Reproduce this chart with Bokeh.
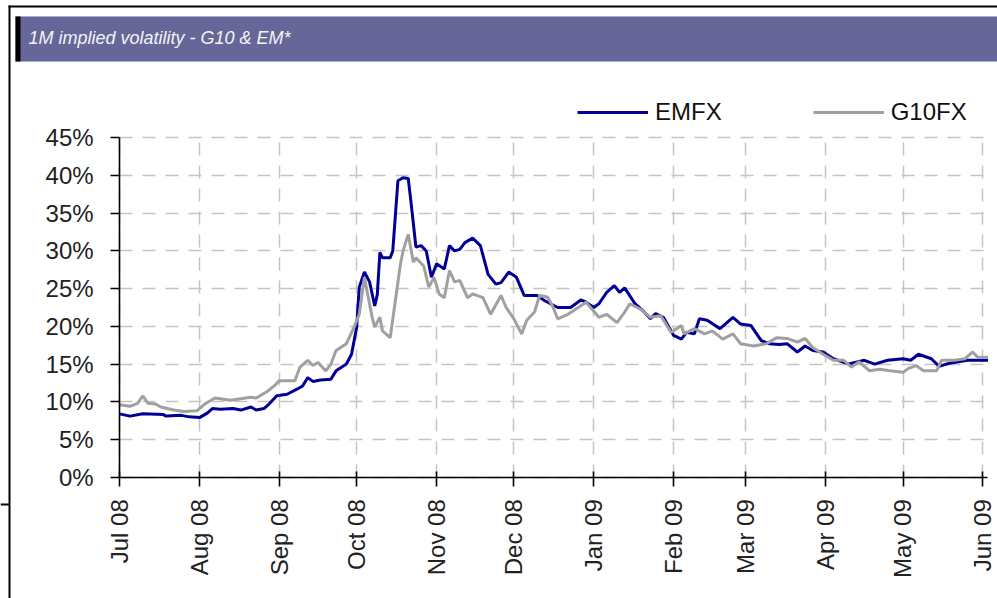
import math
import pandas as pd
from bokeh.plotting import figure
from bokeh.models import (ColumnDataSource, Range1d, FixedTicker, DatetimeTickFormatter, Grid,
                          PrintfTickFormatter, Legend, LegendItem, Label, BoxAnnotation)
from bokeh.embed import file_html
from bokeh.resources import INLINE

title_text = "1M implied volatility - G10 & EM*"
series_names = ["EMFX", "G10FX"]
month_ticks = ["2008-07-01", "2008-08-01", "2008-09-01", "2008-10-01", "2008-11-01", "2008-12-01",
               "2009-01-01", "2009-02-01", "2009-03-01", "2009-04-01", "2009-05-01", "2009-06-01"]
y_ticks = [0, 5, 10, 15, 20, 25, 30, 35, 40, 45]

emfx_dates = ["2008-07-01", "2008-07-05", "2008-07-10", "2008-07-18", "2008-07-19", "2008-07-25", "2008-07-28",
              "2008-08-01", "2008-08-04", "2008-08-06", "2008-08-09", "2008-08-14", "2008-08-17", "2008-08-21",
              "2008-08-23", "2008-08-26", "2008-08-28", "2008-08-31", "2008-09-04", "2008-09-08", "2008-09-10",
              "2008-09-12", "2008-09-14", "2008-09-17", "2008-09-21", "2008-09-23", "2008-09-27", "2008-09-29",
              "2008-10-01", "2008-10-02", "2008-10-04", "2008-10-06", "2008-10-08", "2008-10-09", "2008-10-10",
              "2008-10-11", "2008-10-14", "2008-10-15", "2008-10-17", "2008-10-19", "2008-10-21", "2008-10-22",
              "2008-10-24", "2008-10-26", "2008-10-28", "2008-10-30", "2008-11-01", "2008-11-04", "2008-11-06",
              "2008-11-08", "2008-11-10", "2008-11-12", "2008-11-15", "2008-11-18", "2008-11-21", "2008-11-24",
              "2008-11-26", "2008-11-29", "2008-12-02", "2008-12-05", "2008-12-10", "2008-12-13", "2008-12-18",
              "2008-12-23", "2008-12-27", "2008-12-29", "2009-01-01", "2009-01-03", "2009-01-06", "2009-01-09",
              "2009-01-11", "2009-01-13", "2009-01-17", "2009-01-20", "2009-01-23", "2009-01-25", "2009-01-28",
              "2009-02-01", "2009-02-04", "2009-02-06", "2009-02-09", "2009-02-11", "2009-02-14", "2009-02-19",
              "2009-02-24", "2009-02-27", "2009-03-03", "2009-03-07", "2009-03-10", "2009-03-14", "2009-03-17",
              "2009-03-21", "2009-03-24", "2009-03-27", "2009-03-31", "2009-04-04", "2009-04-10", "2009-04-16",
              "2009-04-20", "2009-04-25", "2009-05-01", "2009-05-04", "2009-05-07", "2009-05-12", "2009-05-15",
              "2009-05-19", "2009-05-26", "2009-06-03"]
emfx_vals = [8.4, 8.1, 8.4, 8.3, 8.1, 8.2, 8.0,
             7.9, 8.5, 9.1, 9.0, 9.1, 8.9, 9.3,
             8.9, 9.1, 9.7, 10.8, 11.0, 11.7, 12.1,
             13.2, 12.7, 12.9, 13.0, 14.1, 15.0, 16.3,
             19.9, 25.2, 27.2, 25.9, 22.7, 24.2, 29.8,
             29.1, 29.1, 30.0, 39.3, 39.7, 39.6, 36.7,
             30.5, 30.7, 30.0, 26.5, 28.3, 27.6, 30.7,
             30.0, 30.2, 31.1, 31.7, 30.7, 26.9, 25.6,
             25.8, 27.2, 26.5, 24.1, 24.1, 23.4, 22.5,
             22.5, 23.5, 23.2, 22.5, 23.0, 24.5, 25.4,
             24.5, 25.1, 23.0, 22.1, 21.0, 21.7, 21.2,
             18.8, 18.3, 19.2, 19.0, 21.0, 20.8, 19.7,
             21.2, 20.3, 20.1, 18.1, 17.7, 17.6, 17.7,
             16.6, 17.4, 16.8, 16.6, 15.7, 15.0, 15.5,
             15.0, 15.5, 15.7, 15.5, 16.3, 15.7, 14.7,
             15.1, 15.5, 15.5]

g10_dates = ["2008-07-01", "2008-07-05", "2008-07-08", "2008-07-10", "2008-07-12", "2008-07-15", "2008-07-17",
             "2008-07-22", "2008-07-26", "2008-07-31", "2008-08-03", "2008-08-07", "2008-08-09", "2008-08-13",
             "2008-08-17", "2008-08-21", "2008-08-23", "2008-08-27", "2008-08-30", "2008-09-01", "2008-09-07",
             "2008-09-09", "2008-09-12", "2008-09-14", "2008-09-16", "2008-09-19", "2008-09-21", "2008-09-23",
             "2008-09-27", "2008-09-30", "2008-10-02", "2008-10-04", "2008-10-05", "2008-10-07", "2008-10-08",
             "2008-10-10", "2008-10-11", "2008-10-14", "2008-10-16", "2008-10-18", "2008-10-19", "2008-10-21",
             "2008-10-23", "2008-10-24", "2008-10-27", "2008-10-29", "2008-10-31", "2008-11-02", "2008-11-04",
             "2008-11-06", "2008-11-08", "2008-11-10", "2008-11-13", "2008-11-15", "2008-11-19", "2008-11-22",
             "2008-11-26", "2008-11-28", "2008-12-01", "2008-12-04", "2008-12-06", "2008-12-09", "2008-12-11",
             "2008-12-14", "2008-12-16", "2008-12-18", "2008-12-22", "2008-12-26", "2008-12-29", "2009-01-03",
             "2009-01-06", "2009-01-10", "2009-01-13", "2009-01-15", "2009-01-19", "2009-01-23", "2009-01-27",
             "2009-01-31", "2009-02-04", "2009-02-05", "2009-02-09", "2009-02-13", "2009-02-16", "2009-02-20",
             "2009-02-24", "2009-02-27", "2009-03-04", "2009-03-09", "2009-03-13", "2009-03-17", "2009-03-21",
             "2009-03-24", "2009-03-27", "2009-03-31", "2009-04-04", "2009-04-08", "2009-04-11", "2009-04-14",
             "2009-04-18", "2009-04-22", "2009-04-26", "2009-05-01", "2009-05-03", "2009-05-06", "2009-05-09",
             "2009-05-14", "2009-05-16", "2009-05-21", "2009-05-25", "2009-05-28", "2009-05-30", "2009-06-03"]
g10_vals = [9.6, 9.4, 9.8, 10.8, 9.8, 9.7, 9.3,
            8.9, 8.7, 8.8, 9.7, 10.5, 10.4, 10.2,
            10.4, 10.6, 10.5, 11.3, 12.1, 12.8, 12.8,
            14.6, 15.5, 14.8, 15.2, 14.1, 15.0, 16.8,
            17.7, 19.9, 21.6, 26.5, 24.7, 21.2, 19.9,
            21.2, 19.4, 18.5, 23.4, 28.3, 30.0, 32.2,
            28.5, 29.1, 28.0, 25.2, 26.5, 24.3, 23.8,
            27.4, 25.9, 26.1, 23.8, 24.3, 23.8, 21.6,
            24.1, 22.5, 21.0, 19.0, 20.8, 21.9, 24.1,
            23.9, 22.7, 21.0, 21.6, 22.5, 23.2, 21.2,
            21.6, 20.5, 21.9, 23.0, 22.3, 21.2, 21.4,
            19.2, 20.1, 19.0, 19.7, 19.0, 19.4, 18.3,
            19.0, 17.7, 17.4, 17.7, 18.5, 18.4, 17.9,
            18.4, 17.2, 16.3, 15.5, 15.5, 14.6, 15.3,
            14.1, 14.3, 14.1, 13.9, 14.4, 14.8, 14.1,
            14.1, 15.5, 15.5, 15.7, 16.6, 15.9, 15.9]

# ---------------------------------------------------------------- layout (canvas px)
W, H = 997, 598
AX_L = 119.1        # x of 1 Jul 2008
AX_R = 986.7        # right end of x axis
PX_DAY = 2.577
AX_B = 476.7        # y of 0%
AX_T = 137.3        # y of 45%
PX_PCT = (AX_B - AX_T) / 45.0

x0 = pd.Timestamp("2008-07-01")
xr = Range1d(x0 - pd.Timedelta(days=AX_L / PX_DAY), x0 + pd.Timedelta(days=(W - AX_L) / PX_DAY))
yr = Range1d(-(H - AX_B) / PX_PCT, 45 + AX_T / PX_PCT)

def ms(ts):
    return float(pd.Timestamp(ts).value // 10**6)

x0_ms = ms(x0)
xend_ms = ms(x0 + pd.Timedelta(days=(AX_R - AX_L) / PX_DAY))

p = figure(width=W, height=H, x_axis_type="datetime", output_backend="svg", toolbar_location=None,
           x_range=xr, y_range=yr, min_border=0)
p.outline_line_color = None
p.background_fill_color = "white"
p.border_fill_color = "white"

tick_ms = [ms(t) for t in month_ticks]
xt = FixedTicker(ticks=tick_ms)
yt = FixedTicker(ticks=y_ticks)

fmt = "%b %y"
xa = p.xaxis[0]
ya = p.yaxis[0]
xa.ticker = xt
xa.formatter = DatetimeTickFormatter(days=fmt, months=fmt, years=fmt, hours=fmt, hourmin=fmt,
                                     minutes=fmt, minsec=fmt, seconds=fmt, milliseconds=fmt,
                                     microseconds=fmt)
xa.fixed_location = 0
xa.bounds = (x0_ms, xend_ms)
xa.major_label_orientation = math.pi / 2
xa.major_tick_in = 6
xa.major_tick_out = 9
xa.minor_tick_line_color = None
xa.major_label_standoff = 13

ya.ticker = yt
ya.formatter = PrintfTickFormatter(format="%d%%")
ya.fixed_location = x0_ms
ya.bounds = (0, 45)
ya.major_tick_in = 0
ya.major_tick_out = 9
ya.minor_tick_line_color = None
ya.major_label_standoff = 17

for ax in (xa, ya):
    ax.axis_line_color = "black"
    ax.axis_line_width = 1.6
    ax.major_tick_line_color = "black"
    ax.major_tick_line_width = 1.6
    ax.major_label_text_font = "Liberation Sans"
    ax.major_label_text_font_size = "24px"
    ax.major_label_text_color = "#222222"

grid_color, grid_dash = "#c4c4c4", "13 10"
if "cross_bounds" in Grid.properties():
    p.xgrid.ticker = xt
    p.ygrid.ticker = yt
    p.xgrid.cross_bounds = (0, 45)
    p.ygrid.cross_bounds = (x0_ms, xend_ms)
    for g in (p.xgrid, p.ygrid):
        g.grid_line_color = grid_color
        g.grid_line_width = 1.5
        g.grid_line_dash = grid_dash
else:
    p.xgrid.visible = False
    p.ygrid.visible = False
    gx = pd.to_datetime(month_ticks)
    p.segment(x0=gx, y0=[0] * len(gx), x1=gx, y1=[45] * len(gx), line_color=grid_color,
              line_width=1.5, line_dash=grid_dash)
    p.segment(x0=[x0] * len(y_ticks), y0=y_ticks, x1=[pd.Timestamp(xend_ms, unit="ms")] * len(y_ticks),
              y1=y_ticks, line_color=grid_color, line_width=1.5, line_dash=grid_dash)

src_em = ColumnDataSource(dict(date=pd.to_datetime(emfx_dates), val=emfx_vals))
src_g10 = ColumnDataSource(dict(date=pd.to_datetime(g10_dates), val=g10_vals))
r_em = p.line("date", "val", source=src_em, line_color="#000099", line_width=3)
r_g10 = p.line("date", "val", source=src_g10, line_color="#a0a0a0", line_width=3)

legend = Legend(items=[LegendItem(label=series_names[0], renderers=[r_em]),
                       LegendItem(label=series_names[1], renderers=[r_g10])],
                orientation="horizontal", location=(577, H - 111.7 - 14), padding=0, margin=0, spacing=91,
                glyph_width=71, glyph_height=28, label_height=28, label_standoff=7,
                label_text_font="Liberation Sans", label_text_font_size="24px",
                label_text_color="#111111", border_line_color=None, background_fill_alpha=0)
p.add_layout(legend)

def sbox(l, r, t, b, **kw):
    return BoxAnnotation(left=l, right=r, top=H - t, bottom=H - b,
                         left_units="screen", right_units="screen", top_units="screen",
                         bottom_units="screen", **kw)

# page frame lines
p.add_layout(sbox(8, 10, 5, H, fill_color="black", fill_alpha=1, line_color=None))
p.add_layout(sbox(8, W, 5, 7, fill_color="black", fill_alpha=1, line_color=None))
p.add_layout(sbox(0, 9, 503, 505, fill_color="black", fill_alpha=1, line_color=None))
# title bar
p.add_layout(sbox(15, W + 5, 16, 61, fill_color="#666699", fill_alpha=1, line_color="#aaaacc", line_width=1))
p.add_layout(sbox(15, 20, 16, 61, fill_color="black", fill_alpha=1, line_color=None))

p.add_layout(Label(x=28, y=H - 37, x_units="screen", y_units="screen", text=title_text,
                   text_font="Liberation Sans", text_font_style="italic",
                   text_font_size="18px", text_color="#f4f4f4", text_baseline="middle", text_align="left"))

open("out.html", "w").write(file_html(p, INLINE))
